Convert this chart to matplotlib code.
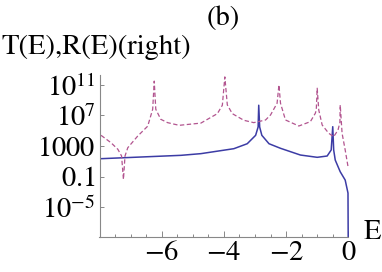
import matplotlib
matplotlib.use("Agg")
import matplotlib.pyplot as plt
import numpy as np

# ---- data (E, log10 value) ----
E_T = [-7.95, -5.38, -4.74, -3.68, -3.25, -2.98, -2.90, -2.88, -2.85, -2.78, -2.55,
       -2.18, -1.54, -1.00, -0.68, -0.55, -0.50, -0.47, -0.42, -0.26, -0.10, -0.01, 0.0]
logT = [1.34, 1.78, 2.0, 2.65, 3.3, 4.4, 5.49, 8.34, 5.49, 4.4, 3.3,
        2.7, 1.82, 1.52, 1.69, 2.48, 5.53, 2.48, 1.16, -0.37, -1.46, -3.16, -12.0]

E_R = [-7.95, -7.63, -7.41, -7.29, -7.23, -7.18, -7.09, -6.77, -6.45, -6.29, -6.24,
       -6.19, -6.03, -5.81, -5.44, -4.74, -4.21, -4.05, -3.97, -3.89, -3.73, -3.36,
       -3.04, -2.66, -2.50, -2.29, -2.23, -2.18, -2.02, -1.59, -1.22, -1.06, -1.03,
       -1.00, -0.95, -0.84, -0.63, -0.47, -0.33, -0.27, -0.26, -0.20, -0.10, 0.0]
logR = [4.4, 3.43, 2.57, 1.69, -1.37, 1.69, 2.78, 4.31, 5.6, 7.81, 11.5,
        7.81, 6.5, 6.06, 5.71, 6.0, 7.24, 8.34, 12.05, 8.38, 7.24, 6.37,
        6.06, 6.41, 7.07, 8.6, 11.0, 8.6, 6.41, 5.62, 6.19, 7.29, 7.72,
        10.57, 7.72, 5.75, 4.67, 4.22, 5.1, 6.1, 8.38, 4.67, 2.48, 0.08]

x_major = [-6, -4, -2, 0]
x_labels = ["$-6$", "$-4$", "$-2$", "$0$"]
y_ticks = [1e11, 1e7, 1e3, 1e-1, 1e-5]
y_labels = ["$10^{11}$", "$10^{7}$", "$1000$", "$0.1$", "$10^{-5}$"]

plt.rcParams['font.family'] = ['STIXGeneral', 'DejaVu Serif']
plt.rcParams['mathtext.fontset'] = 'stix'

FS = 20.5
fig = plt.figure(figsize=(3.82, 2.72), dpi=100)
# x: E=-8 at 99.5 px, E=0 at 348.3 px; extend slightly past 0
x0, x1 = 99.5, 348.3
xr = 0.05
xright = x1 + (x1 - x0) / 8.0 * xr
ax = fig.add_axes([x0/382, 1-236.5/272, (xright-x0)/382, (236.5-75)/272])

T = 10.0 ** np.array(logT)
R = 10.0 ** np.array(logR)
ax.plot(E_T, T, color='#3C3CA5', lw=1.1)
ax.plot(E_R, R, color='#B2548F', lw=0.9, dashes=(3.5, 2.0))

ax.set_yscale('log')
ax.set_xlim(-8.0, xr)
ax.set_ylim(10**-8.85, 10**12.3)

for s in ['top', 'right']:
    ax.spines[s].set_visible(False)
for s in ['left', 'bottom']:
    ax.spines[s].set_color('#888888')
    ax.spines[s].set_linewidth(0.8)
ax.spines['bottom'].set_bounds(-8.0, 0.0)

ax.set_xticks(x_major)
ax.set_xticklabels(x_labels)
ax.set_xticks(np.arange(-7.5, 0.01, 0.5), minor=True)
ax.set_yticks(y_ticks)
ax.set_yticklabels(y_labels)
ax.yaxis.set_minor_locator(matplotlib.ticker.NullLocator())

ax.tick_params(axis='both', which='both', direction='in', color='#888888',
               labelsize=FS, width=0.7)
ax.tick_params(axis='x', which='major', length=4, pad=3)
ax.tick_params(axis='x', which='minor', length=2.5)
ax.tick_params(axis='y', which='major', length=3, pad=3)

fig.text(0.003, 0.824, "T(E),R(E)(right)", fontsize=FS, ha='left', va='center')
fig.text(0.584, 0.934, "(b)", fontsize=FS, ha='center', va='center')
fig.text(0.974, 0.145, "E", fontsize=FS, ha='center', va='center')

fig.savefig("out.png", dpi=100)
